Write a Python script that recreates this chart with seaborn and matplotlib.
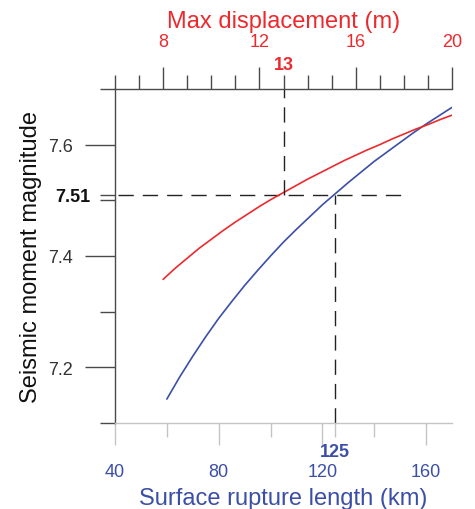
import numpy as np
import pandas as pd
import seaborn as sns
import matplotlib.pyplot as plt
from matplotlib.ticker import FixedLocator, FuncFormatter

# ---- data ----
rupture_len_km = [60, 65, 70, 75, 80, 85, 90, 95, 100, 105, 110, 115, 120, 125,
                  130, 135, 140, 145, 150, 155, 160, 165, 170]
mag_from_len = [7.143, 7.183, 7.220, 7.255, 7.288, 7.318, 7.347, 7.374, 7.400, 7.425,
                7.448, 7.470, 7.492, 7.512, 7.532, 7.551, 7.570, 7.587, 7.604, 7.621,
                7.637, 7.652, 7.667]

max_disp_m = [8, 8.5, 9, 9.5, 10, 10.5, 11, 11.5, 12, 12.5, 13, 13.5, 14, 14.5,
              15, 15.5, 16, 16.5, 17, 17.5, 18, 18.5, 19, 19.5, 20]
mag_from_disp = [7.358, 7.378, 7.396, 7.414, 7.430, 7.446, 7.461, 7.475, 7.489, 7.502,
                 7.514, 7.526, 7.538, 7.549, 7.560, 7.571, 7.581, 7.591, 7.600, 7.610,
                 7.619, 7.628, 7.636, 7.645, 7.653]

ref_mag = 7.51
ref_len = 125
ref_disp = 13
ref_line_end_km = 151
ref_line_start_km = 41

len_major = [40, 80, 120, 160]
len_minor = [60, 100, 125, 140]
disp_major = [8, 12, 16, 20]
disp_minor = [6, 7, 9, 10, 11, 13, 14, 15, 17, 18, 19]
mag_major = [7.2, 7.4, 7.6]
mag_minor = [7.1, 7.3, 7.5, 7.51, 7.7]

BLUE = '#3b4fa6'
RED = '#ec2a2e'
DARK = '#4a4a4a'
LIGHT = '#c4c4c4'

sns.set_style('white')
plt.rcParams['font.family'] = ['Liberation Sans', 'DejaVu Sans']

fig = plt.figure(figsize=(4.75, 5.1), dpi=100)
ax = fig.add_axes([115 / 475, 86 / 510, 337 / 475, 334 / 510])
ax2 = ax.twiny()

df_len = pd.DataFrame({'L': rupture_len_km, 'M': mag_from_len})
df_disp = pd.DataFrame({'D': max_disp_m, 'M': mag_from_disp})
sns.lineplot(data=df_len, x='L', y='M', ax=ax, color=BLUE, lw=1.2)
sns.lineplot(data=df_disp, x='D', y='M', ax=ax2, color=RED, lw=1.2)

ax.set_xlim(40, 170)
ax2.set_xlim(6, 20)
ax.set_ylim(7.1, 7.7)

dash = (0, (11, 6.5))
ax.hlines(ref_mag, ref_line_start_km, ref_line_end_km, colors='#222222', lw=1.0, linestyles=dash)
ax.vlines(ref_len, 7.1, ref_mag, colors='#222222', lw=1.0, linestyles=dash)
ax2.vlines(ref_disp, ref_mag, 7.7, colors='#222222', lw=1.0, linestyles=dash)

# spines
for s in ['top', 'right']:
    ax.spines[s].set_visible(False)
ax.spines['bottom'].set_color(LIGHT)
ax.spines['left'].set_color(DARK)
for s in ['bottom', 'left', 'right']:
    ax2.spines[s].set_visible(False)
ax2.spines['top'].set_color(DARK)
for sp in [ax.spines['bottom'], ax.spines['left'], ax2.spines['top']]:
    sp.set_linewidth(1.0)

# bottom axis ticks
ax.xaxis.set_major_locator(FixedLocator(len_major))
ax.xaxis.set_minor_locator(FixedLocator(len_minor))
ax.xaxis.set_minor_formatter(FuncFormatter(lambda v, p: f'{ref_len}' if abs(v - ref_len) < 1e-6 else ''))
ax.tick_params(axis='x', which='both', bottom=True, top=False)
ax.tick_params(axis='x', which='major', direction='out', length=15.8, width=1, color=LIGHT,
               labelcolor=BLUE, labelsize=13, pad=13)
ax.tick_params(axis='x', which='minor', direction='out', length=10, width=1, color=LIGHT,
               labelcolor=BLUE, labelsize=13, pad=4.5)

# left axis ticks
ax.yaxis.set_major_locator(FixedLocator(mag_major))
ax.yaxis.set_minor_locator(FixedLocator(mag_minor))
ax.yaxis.set_major_formatter(FuncFormatter(lambda v, p: f'{v:.1f}'))
ax.yaxis.set_minor_formatter(FuncFormatter(lambda v, p: f'{ref_mag}' if abs(v - ref_mag) < 1e-6 else ''))
ax.tick_params(axis='y', which='both', left=True, right=False)
ax.tick_params(axis='y', which='major', direction='out', length=21.5, width=1, color=DARK,
               labelcolor='#333333', labelsize=13, pad=9)
ax.tick_params(axis='y', which='minor', direction='out', length=10.5, width=1, color=DARK,
               labelcolor='#111111', labelsize=13, pad=7)

# top axis ticks
ax2.xaxis.set_major_locator(FixedLocator(disp_major))
ax2.xaxis.set_minor_locator(FixedLocator(disp_minor))
ax2.xaxis.set_minor_formatter(FuncFormatter(lambda v, p: f'{ref_disp}' if abs(v - ref_disp) < 1e-6 else ''))
ax2.tick_params(axis='x', which='both', top=True, bottom=False, labeltop=True, labelbottom=False)
ax2.tick_params(axis='x', which='major', direction='out', length=15.8, width=1, color=DARK,
                labelcolor=RED, labelsize=13, pad=12)
ax2.tick_params(axis='x', which='minor', direction='out', length=10, width=1, color=DARK,
                labelcolor=RED, labelsize=13, pad=1.5)

# style special ticks
fig.canvas.draw()
for t in ax.xaxis.get_minor_ticks():
    if abs(t.get_loc() - ref_len) < 1e-6:
        t.tick1line.set_color('#333333')
        t.label1.set_fontweight('bold')
for t in ax.yaxis.get_minor_ticks():
    if abs(t.get_loc() - ref_mag) < 1e-6:
        t.label1.set_fontweight('bold')
for t in ax2.xaxis.get_minor_ticks():
    if abs(t.get_loc() - ref_disp) < 1e-6:
        t.label2.set_fontweight('bold')

ax.set_xlabel('Surface rupture length (km)', color=BLUE, fontsize=17, labelpad=5)
ax2.set_xlabel('Max displacement (m)', color=RED, fontsize=17, labelpad=4.5)
ax.set_ylabel('Seismic moment magnitude', color='#111111', fontsize=17, labelpad=4)

fig.savefig('out.png', dpi=100)
